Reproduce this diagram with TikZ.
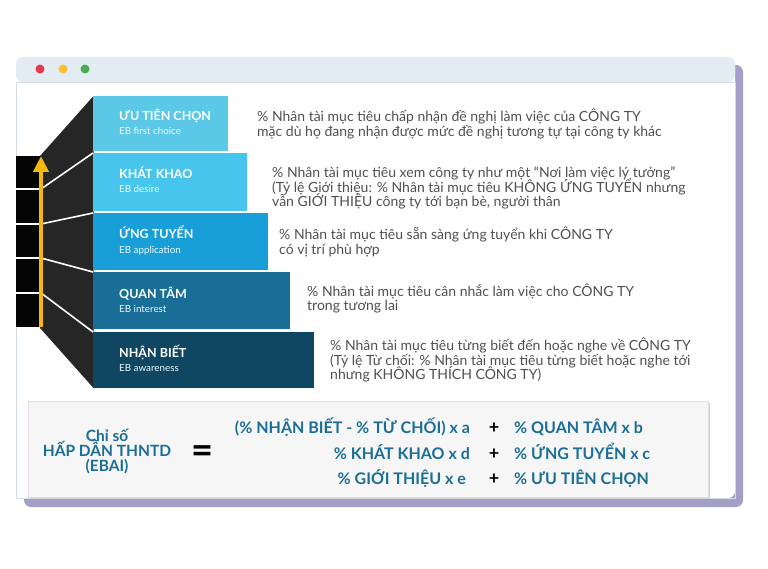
\documentclass[tikz,border=0pt]{standalone}
\usepackage{fontspec}
\setmainfont{Lato}
\usetikzlibrary{arrows.meta}

\definecolor{winbar}{HTML}{E3EBF3}
\definecolor{winline}{HTML}{D5DCE4}
\definecolor{winshade}{HTML}{A39FC7}
\definecolor{dotred}{HTML}{E8384F}
\definecolor{dotyellow}{HTML}{FCC02E}
\definecolor{dotgreen}{HTML}{46AE4A}
\definecolor{lvlA}{HTML}{5AC8E6}
\definecolor{lvlB}{HTML}{48C5EC}
\definecolor{lvlC}{HTML}{189FD7}
\definecolor{lvlD}{HTML}{186E97}
\definecolor{lvlE}{HTML}{0F4763}
\definecolor{sidegray}{HTML}{262626}
\definecolor{arrowgold}{HTML}{F6B70F}
\definecolor{desctext}{HTML}{505050}
\definecolor{eqblue}{HTML}{1B6E98}
\definecolor{eqfill}{HTML}{F6F6F6}

\newcommand\tightlines{\lineskiplimit=-20pt\relax}

\tikzset{
  lvlbox/.style={anchor=north west,inner sep=0pt,minimum width=#1},
  lvltitle/.style={anchor=base west,inner sep=0pt,text=white,font=\fontsize{12.5}{14}\selectfont\bfseries},
  lvlsub/.style={anchor=base west,inner sep=0pt,text=white!88!lvlA,font=\fontsize{9.8}{11}\selectfont},
  desc/.style={anchor=west,inner sep=0pt,align=left,text=desctext,font={\fontsize{14}{14.4}\selectfont\tightlines}},
  eqtext/.style={inner sep=0pt,text=eqblue,font=\fontsize{16}{17}\selectfont\bfseries},
  eqplus/.style={inner sep=0pt,font=\fontsize{18}{18}\selectfont\bfseries}
}

\begin{document}
\begin{tikzpicture}[x=1pt,y=-1pt]
  \useasboundingbox (0,0) rectangle (768,569);

  % browser window
  \fill[winshade,rounded corners=7] (24,65) rectangle (743,507);
  \fill[white,rounded corners=7] (16,57) rectangle (735,498);
  \fill[winbar,rounded corners=7] (16,57) -- (16,82) -- (735,82) -- (735,57) -- cycle;
  \draw[winline,line width=0.8pt] (16,82) -- (735,82);
  \draw[winline,line width=0.8pt] (16,82) -- (16,498) -- (735,498) -- (735,82);

  \fill[dotred] (40,69) circle (4.5);
  \fill[dotyellow] (63,69) circle (4.5);
  \fill[dotgreen] (85,69) circle (4.5);

  % side of the stairs
  \fill[sidegray] (40,156) -- (93.5,96) -- (93.5,388) -- (40,328) -- cycle;
  \fill[black!98] (16,156) rectangle (41,327);

  \coordinate (jA) at (41,189);
  \coordinate (jB) at (41,224);
  \coordinate (jC) at (41,258);
  \coordinate (jD) at (41,293);

  % levels
  \node[lvlbox=135,fill=lvlA,minimum height=55] (pref) at (93,96) {};
  \node[lvlbox=154,fill=lvlB,minimum height=58] (desire) at (93,153) {};
  \node[lvlbox=175,fill=lvlC,minimum height=57] (appl) at (93,213) {};
  \node[lvlbox=197,fill=lvlD,minimum height=57] (interest) at (93,272) {};
  \node[lvlbox=221,fill=lvlE,minimum height=56] (aware) at (93,332) {};

  \draw[white,line width=1.6pt] (16,189) -- (jA) -- (desire.north west);
  \draw[white,line width=1.6pt] (16,224) -- (jB) -- (appl.north west);
  \draw[white,line width=1.6pt] (16,258) -- (jC) -- (interest.north west);
  \draw[white,line width=1.6pt] (16,293) -- (jD) -- (aware.north west);

  \draw[arrowgold,line width=4pt,-{Triangle[width=15pt,length=16pt]}] (41,327) -- (41,156);

  \node[lvltitle] (prefT) at (119,120.5) {ƯU TIÊN CHỌN};
  \node[lvlsub] (prefS) at (119,134.5) {EB first choice};
  \node[lvltitle] (desireT) at (119,178.5) {KHÁT KHAO};
  \node[lvlsub] (desireS) at (119,192.5) {EB desire};
  \node[lvltitle] (applT) at (119,238.5) {ỨNG TUYỂN};
  \node[lvlsub] (applS) at (119,253.5) {EB application};
  \node[lvltitle] (interestT) at (119,298.5) {QUAN TÂM};
  \node[lvlsub] (interestS) at (119,312.5) {EB interest};
  \node[lvltitle] (awareT) at (119,357.5) {NHẬN BIẾT};
  \node[lvlsub] (awareS) at (119,371.5) {EB awareness};

  % descriptions
  \node[desc] (prefD) at (257,124) {\% Nhân tài mục tiêu chấp nhận đề nghị làm việc của CÔNG TY\\mặc dù họ đang nhận được mức đề nghị tương tự tại công ty khác};
  \node[desc] (desireD) at (272,188) {\% Nhân tài mục tiêu xem công ty như một “Nơi làm việc lý tưởng”\\(Tỷ lệ Giới thiệu: \% Nhân tài mục tiêu KHÔNG ỨNG TUYỂN nhưng\\vẫn GIỚI THIỆU công ty tới bạn bè, người thân};
  \node[desc] (applD) at (279,242) {\% Nhân tài mục tiêu sẵn sàng ứng tuyển khi CÔNG TY\\có vị trí phù hợp};
  \node[desc] (interestD) at (307,298.5) {\% Nhân tài mục tiêu cân nhắc làm việc cho CÔNG TY\\trong tương lai};
  \node[desc] (awareD) at (330,360) {\% Nhân tài mục tiêu từng biết đến hoặc nghe về CÔNG TY\\(Tỷ lệ Từ chối: \% Nhân tài mục tiêu từng biết hoặc nghe tới\\nhưng KHÔNG THÍCH CÔNG TY)};

  % formula
  \fill[black!18] (30,403) rectangle (710,499);
  \node[draw=black!12,fill=eqfill,anchor=north west,inner sep=0pt,minimum width=680,minimum height=96] (eqbox) at (28,401) {};

  \node[inner sep=0pt,align=center,text=eqblue,font={\fontsize{15.5}{15}\selectfont\bfseries\tightlines}] (ebai) at (107,452) {Chỉ số\\HẤP DẪN THNTD\\(EBAI)};
  \node[inner sep=0pt,font=\fontsize{38}{38}\selectfont\bfseries] (eq) at (203,455) {=};

  \node[eqtext,anchor=base east] (awareX) at (470,433) {(\% NHẬN BIẾT - \% TỪ CHỐI) x a};
  \node[eqtext,anchor=base east] (desireX) at (470,459) {\% KHÁT KHAO x d};
  \node[eqtext,anchor=base east] (referX) at (466,484) {\% GIỚI THIỆU x e};
  \node[eqplus] (plusA) at (494,428) {+};
  \node[eqplus] (plusB) at (494,454) {+};
  \node[eqplus] (plusC) at (494,479) {+};
  \node[eqtext,anchor=base west] (interestX) at (514,433) {\% QUAN TÂM x b};
  \node[eqtext,anchor=base west] (applX) at (514,459) {\% ỨNG TUYỂN x c};
  \node[eqtext,anchor=base west] (prefX) at (514,484) {\% ƯU TIÊN CHỌN};
\end{tikzpicture}
\end{document}
